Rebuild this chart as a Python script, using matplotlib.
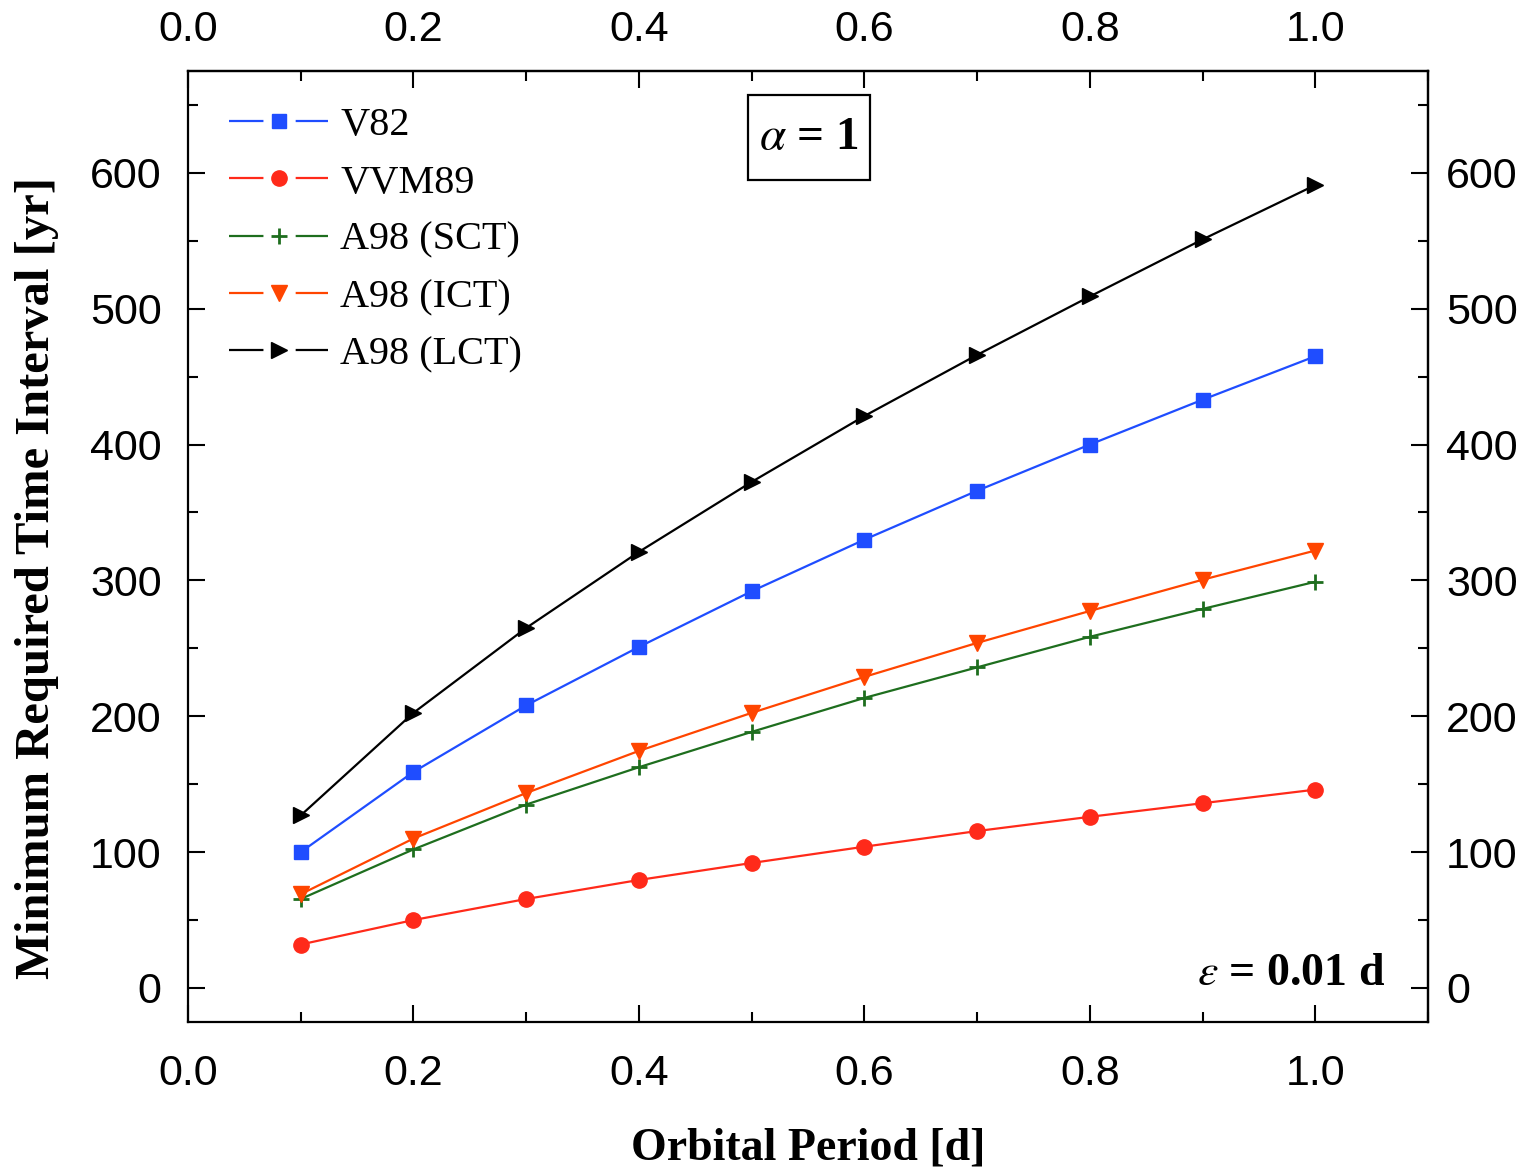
import matplotlib
matplotlib.use("Agg")
import matplotlib.pyplot as plt
from matplotlib.legend_handler import HandlerTuple
from matplotlib.lines import Line2D
from matplotlib.patches import Rectangle
from matplotlib.ticker import MultipleLocator

period = [0.1, 0.2, 0.3, 0.4, 0.5, 0.6, 0.7, 0.8, 0.9, 1.0]
v82 = [100, 159, 208, 251, 292, 330, 366, 400, 433, 465]
vvm89 = [32, 50, 65.5, 79.5, 92, 104, 115.5, 126, 136, 146]
a98_sct = [65.5, 102, 135, 162.5, 188.5, 213.5, 236, 258.5, 279, 299]
a98_ict = [69, 110, 143.5, 174.5, 202.5, 229, 254, 277.5, 300.5, 322]
a98_lct = [127, 202.5, 265, 321, 372.5, 421, 466, 509, 551, 591]

labels = ["V82", "VVM89", "A98 (SCT)", "A98 (ICT)", "A98 (LCT)"]
colors = ["#1f4dff", "#ff2a1a", "#1e6e1e", "#ff4500", "#000000"]
markers = ["s", "o", "+", "v", ">"]
msizes = [10, 11, 11, 12, 12]

xticks = [0.0, 0.2, 0.4, 0.6, 0.8, 1.0]
xticklabels = ["0.0", "0.2", "0.4", "0.6", "0.8", "1.0"]

plt.rcParams['mathtext.fontset'] = 'stix'

fig = plt.figure(figsize=(15.28, 11.69), dpi=100)
ax = fig.add_axes([0.123, 0.1258, 0.9346 - 0.123, 0.9393 - 0.1258])

series = [v82, vvm89, a98_sct, a98_ict, a98_lct]
handles = []
for ys, c, m, ms, lab in zip(series, colors, markers, msizes, labels):
    mew = 2 if m == "+" else 1
    ax.plot(period, ys, color=c, lw=1.6, marker=m, ms=ms, mew=mew,
            mfc=c, mec=c, zorder=3)
    ln = Line2D([], [], color=c, lw=1.6, linestyle=(0, (15.5, 14.5, 60, 1)))
    mk = Line2D([], [], color="none", marker=m, ms=ms, mfc=c, mec=c, mew=mew, lw=0)
    handles.append((ln, mk))

ax.set_xlim(0, 1.1)
ax.set_ylim(-25, 675)
ax.set_xticks(xticks)
ax.set_xticklabels(xticklabels)
ax.xaxis.set_minor_locator(MultipleLocator(0.1))
ax.yaxis.set_major_locator(MultipleLocator(100))
ax.yaxis.set_minor_locator(MultipleLocator(50))
ax.tick_params(which="both", direction="in", width=1.5)
ax.tick_params(which="major", length=12, labelsize=31)
ax.tick_params(which="minor", length=7)
ax.tick_params(axis="x", pad=23)
ax.tick_params(axis="y", pad=19)

secx = ax.secondary_xaxis("top")
secx.set_xticks(xticks)
secx.set_xticklabels(xticklabels)
secx.xaxis.set_minor_locator(MultipleLocator(0.1))
secx.tick_params(which="both", direction="in", width=1.5)
secx.tick_params(which="major", length=12, labelsize=31, pad=15)
secx.tick_params(which="minor", length=7)

secy = ax.secondary_yaxis("right")
secy.yaxis.set_major_locator(MultipleLocator(100))
secy.yaxis.set_minor_locator(MultipleLocator(50))
secy.tick_params(which="both", direction="in", width=1.5)
secy.tick_params(which="major", length=12, labelsize=31, pad=13)
secy.tick_params(which="minor", length=7)

for a in (ax, secx, secy):
    for lab in a.get_xticklabels() + a.get_yticklabels():
        lab.set_family("Liberation Sans")
    for sp in a.spines.values():
        sp.set_linewidth(1.6)

ax.set_xlabel("Orbital Period [d]", family="Liberation Serif", fontweight="bold",
              fontsize=33, labelpad=24)
ax.set_ylabel("Minimum Required Time Interval [yr]", family="Liberation Serif",
              fontweight="bold", fontsize=35)
ax.yaxis.set_label_coords(-0.104, 0.467)

leg = ax.legend(handles, labels, handler_map={tuple: HandlerTuple(ndivide=1)},
                loc="upper left", frameon=False,
                prop={"family": "Liberation Serif", "size": 29},
                handlelength=2.45, handletextpad=0.3, labelspacing=0.5,
                borderaxespad=0.2)
leg.set_bbox_to_anchor((0.014, 0.9875), transform=ax.transAxes)

ax.add_patch(Rectangle((0.4516, 0.8854), 0.55 - 0.4516, 0.9748 - 0.8854,
                       transform=ax.transAxes, fc="white", ec="black", lw=1.6,
                       zorder=4))
ax.text(0.5008, 0.930, r"$\alpha$ = 1", transform=ax.transAxes,
        family="Liberation Serif", fontweight="bold",
        fontsize=34, ha="center", va="center", zorder=5)
ax.text(1.062, 10, r"$\varepsilon$ = 0.01 d", family="Liberation Serif",
        fontweight="bold", fontsize=33, ha="right", va="center")

fig.savefig("out.png", dpi=100)
